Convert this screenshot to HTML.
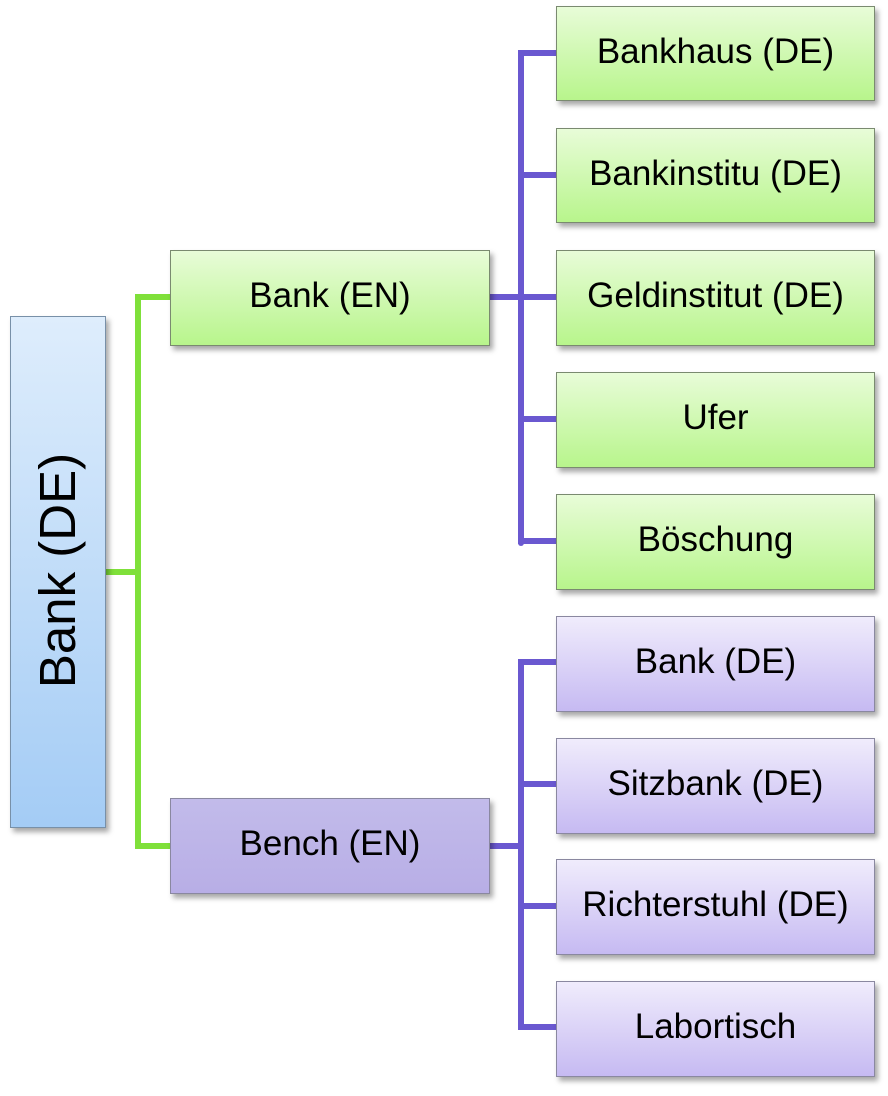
<!DOCTYPE html>
<html><head><meta charset="utf-8"><style>
body{margin:0;width:888px;height:1096px;background:#fff;position:relative;overflow:hidden;font-family:"Liberation Sans",sans-serif;}
.b{position:absolute;box-sizing:border-box;border:1.5px solid #7a8a70;display:flex;align-items:center;justify-content:center;font-size:35px;color:#000;box-shadow:3px 4px 5px rgba(0,0,0,0.35);padding-bottom:4px;}
.g{background:linear-gradient(#e8fcd8,#b8f58c);}
.p{background:linear-gradient(#f0ecfc,#c6baf2);border-color:#8a88a0;}
.l{position:absolute;}
.gl{background:#7fe03a;}
.pl{background:#6a58d0;}
</style></head><body>
<div class="l gl" style="left:105px;top:569px;width:36px;height:6px"></div>
<div class="l gl" style="left:135px;top:294px;width:6px;height:555px;border-radius:3px"></div>
<div class="l gl" style="left:135px;top:294px;width:36px;height:6px"></div>
<div class="l gl" style="left:135px;top:843px;width:36px;height:6px"></div>
<div class="l pl" style="left:489px;top:294px;width:35px;height:6px"></div>
<div class="l pl" style="left:518px;top:50px;width:6px;height:496px;border-radius:3px"></div>
<div class="l pl" style="left:518px;top:50px;width:40px;height:6px"></div>
<div class="l pl" style="left:518px;top:172px;width:40px;height:6px"></div>
<div class="l pl" style="left:518px;top:294px;width:40px;height:6px"></div>
<div class="l pl" style="left:518px;top:416px;width:40px;height:6px"></div>
<div class="l pl" style="left:518px;top:538px;width:40px;height:6px"></div>
<div class="l pl" style="left:489px;top:843px;width:35px;height:6px"></div>
<div class="l pl" style="left:518px;top:659px;width:6px;height:371px;border-radius:3px"></div>
<div class="l pl" style="left:518px;top:659px;width:40px;height:6px"></div>
<div class="l pl" style="left:518px;top:781px;width:40px;height:6px"></div>
<div class="l pl" style="left:518px;top:903px;width:40px;height:6px"></div>
<div class="l pl" style="left:518px;top:1024px;width:40px;height:6px"></div>
<div class="b" style="left:10px;top:316px;width:96px;height:512px;background:linear-gradient(#deedfc,#a4ccf5);border-color:#7890a8;padding:0;">
<div style="transform:rotate(-90deg);white-space:nowrap;font-size:51px;margin-top:-4px">Bank (DE)</div></div>
<div class="b g" style="left:170px;top:250px;width:320px;height:96px">Bank (EN)</div>
<div class="b" style="left:170px;top:798px;width:320px;height:96px;background:linear-gradient(#c2bbea,#b8aee6);border-color:#8a88a0">Bench (EN)</div>
<div class="b g" style="left:556px;top:6px;width:319px;height:95px">Bankhaus (DE)</div>
<div class="b g" style="left:556px;top:128px;width:319px;height:95px">Bankinstitu (DE)</div>
<div class="b g" style="left:556px;top:250px;width:319px;height:96px">Geldinstitut (DE)</div>
<div class="b g" style="left:556px;top:372px;width:319px;height:96px">Ufer</div>
<div class="b g" style="left:556px;top:494px;width:319px;height:96px">Böschung</div>
<div class="b p" style="left:556px;top:616px;width:319px;height:96px">Bank (DE)</div>
<div class="b p" style="left:556px;top:738px;width:319px;height:96px">Sitzbank (DE)</div>
<div class="b p" style="left:556px;top:859px;width:319px;height:96px">Richterstuhl (DE)</div>
<div class="b p" style="left:556px;top:981px;width:319px;height:96px">Labortisch</div>
</body></html>
